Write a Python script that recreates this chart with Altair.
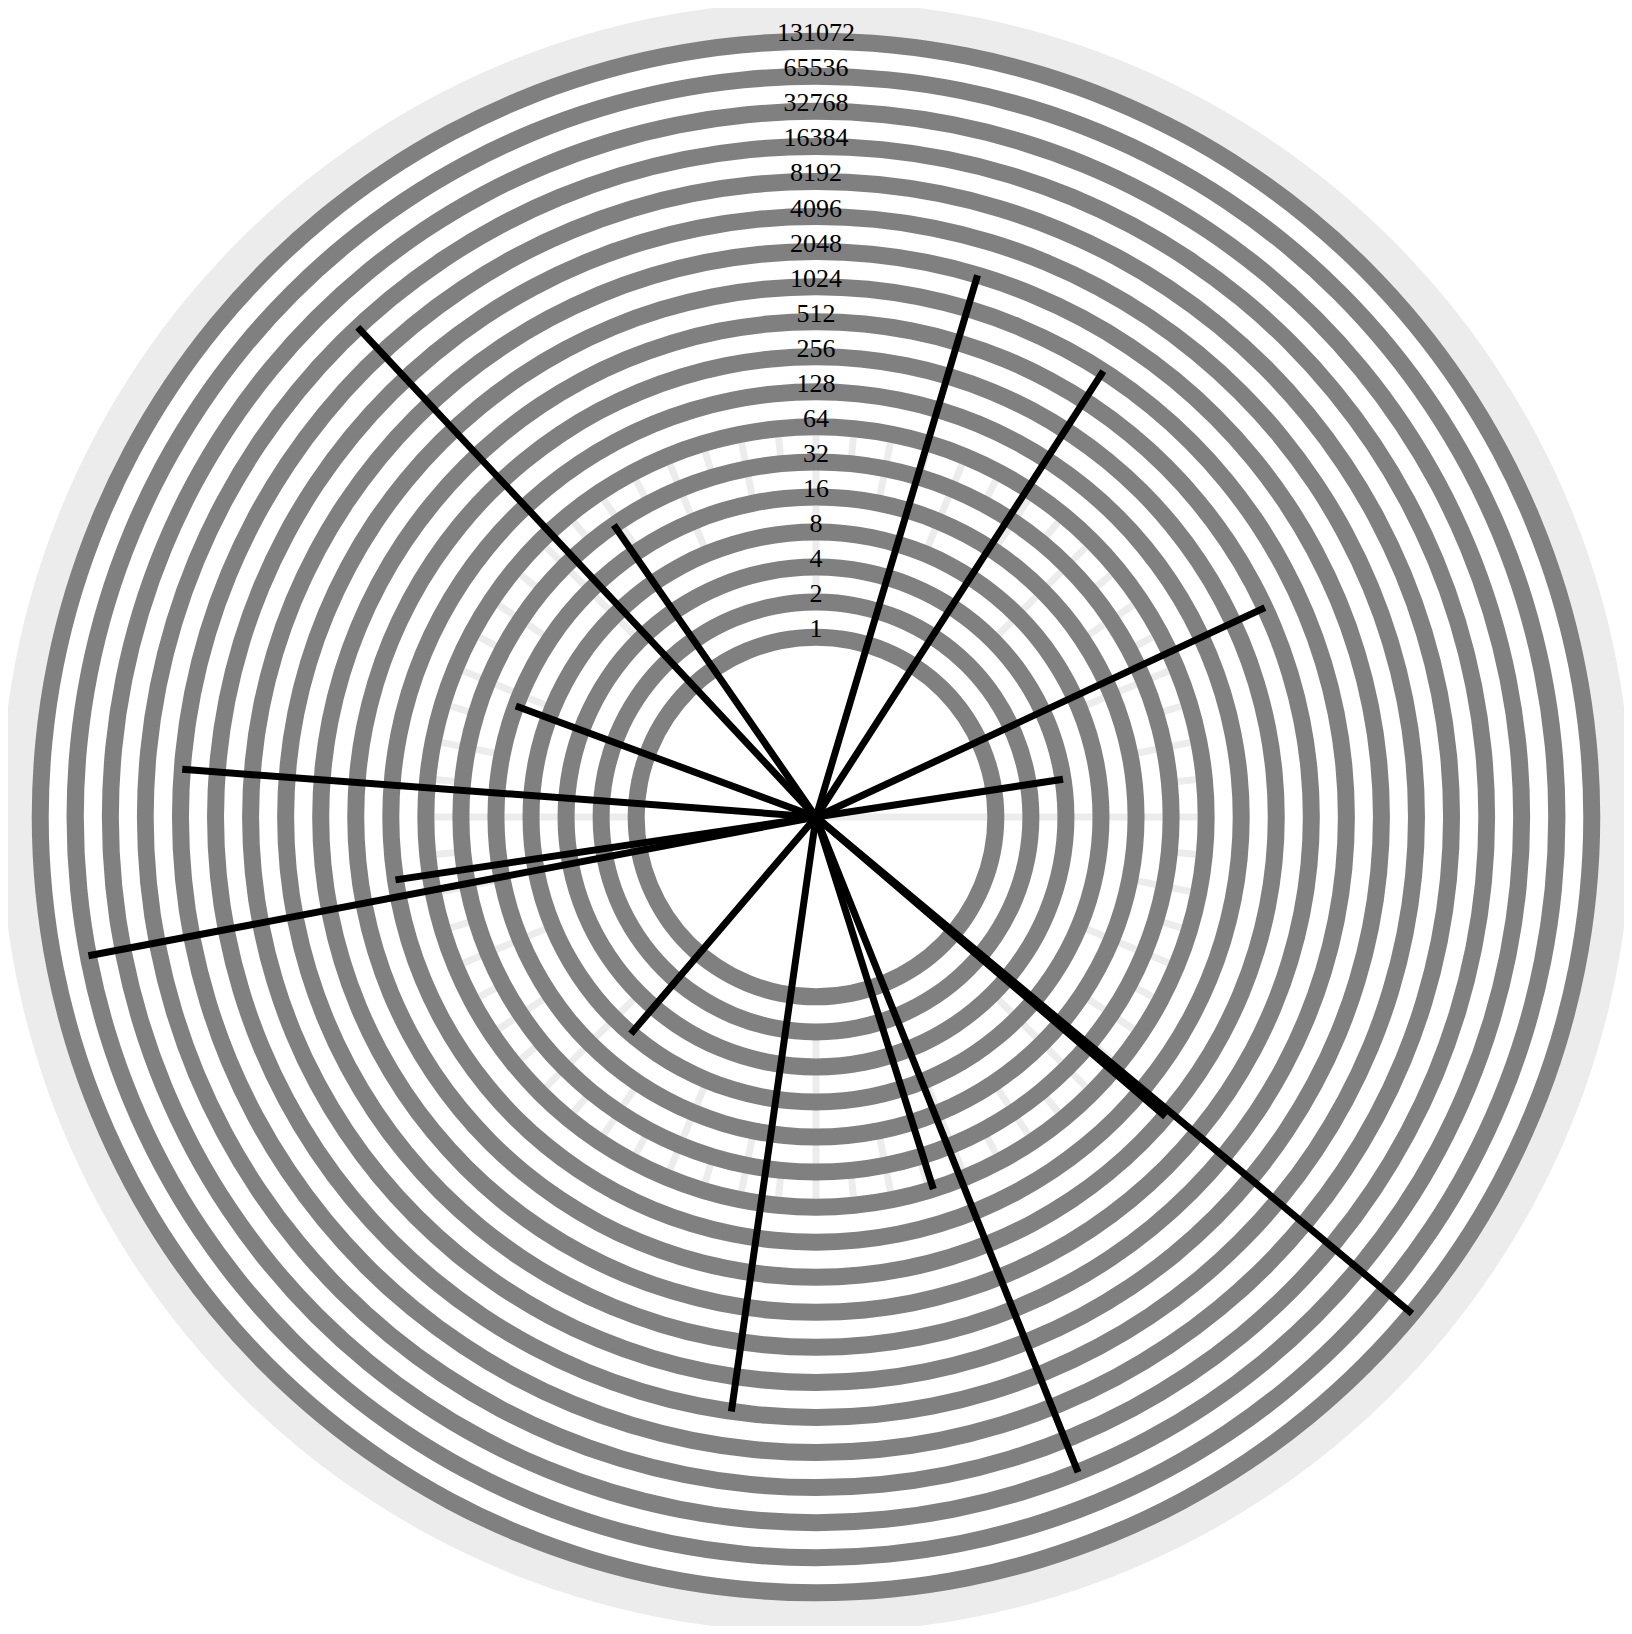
import math
import altair as alt
import pandas as pd

# ---- data ----
ring_values = [1, 2, 4, 8, 16, 32, 64, 128, 256, 512, 1024, 2048, 4096,
               8192, 16384, 32768, 65536, 131072]
ring_labels = ["1", "2", "4", "8", "16", "32", "64", "128", "256", "512",
               "1024", "2048", "4096", "8192", "16384", "32768", "65536", "131072"]

spoke_angles = [16.6, 32.8, 65.0, 81.3, 129.8, 130.6, 158.2, 162.5,
                188.1, 220.5, 259.2, 261.5, 274.3, 290.3, 316.9, 325.3]
spoke_values = [2048, 1024, 512, 4, 131072, 256, 32768, 64,
                4096, 8, 65536, 128, 8192, 16, 16384, 32]

grid_angles = [90, 95.625, 101.25, 106.875, 112.5, 118.125, 123.75, 129.375,
               135, 140.625, 146.25, 151.875, 157.5, 163.125, 168.75, 174.375,
               180, 185.625, 191.25, 196.875, 202.5, 208.125, 213.75, 219.375,
               225, 230.625, 236.25, 241.875, 247.5, 253.125, 258.75, 264.375,
               270, 275.625, 281.25, 286.875, 292.5, 298.125, 303.75, 309.375,
               315, 320.625, 326.25, 331.875, 337.5, 343.125, 348.75, 354.375,
               0, 5.625, 11.25, 16.875, 22.5, 28.125, 33.75, 39.375,
               45, 50.625, 56.25, 61.875, 67.5, 73.125, 78.75, 84.375]
grid_inner = [0, 32, 16, 32, 8, 32, 16, 32, 4, 32, 16, 32, 8, 32, 16, 32,
              2, 32, 16, 32, 8, 32, 16, 32, 4, 32, 16, 32, 8, 32, 16, 32,
              1, 32, 16, 32, 8, 32, 16, 32, 4, 32, 16, 32, 8, 32, 16, 32,
              2, 32, 16, 32, 8, 32, 16, 32, 4, 32, 16, 32, 8, 32, 16, 32]
grid_outer = 64

R_MIN = 0.02856      # value at the centre
R_MAX = 248000       # value at radius 808
DISC_EDGE = 288000   # outer edge of the light grey disc

# ---- tables ----
disc_df = pd.DataFrame({"t0": [0], "t1": [360], "outer": [DISC_EDGE], "inner": [131072]})
grid_df = pd.DataFrame({
    "angle": grid_angles,
    "inner": [v if v > 0 else R_MIN for v in grid_inner],
    "outer": [grid_outer] * len(grid_angles),
})
ring_df = pd.DataFrame({"v": ring_values, "label": ring_labels,
                        "t0": [0] * len(ring_values), "t1": [360] * len(ring_values)})
spoke_df = pd.DataFrame({"angle": spoke_angles, "v": spoke_values,
                         "base": [R_MIN] * len(spoke_values)})

theta_scale = alt.Scale(domain=[0, 360], range=[0, 2 * math.pi])
r_scale = alt.Scale(type="log", domain=[R_MIN, R_MAX], range=[0, 808])

disc = alt.Chart(disc_df).mark_arc(color="#ececec").encode(
    theta=alt.Theta("t0:Q", scale=theta_scale, stack=False),
    theta2="t1:Q",
    radius=alt.Radius("outer:Q", scale=r_scale),
    radius2="inner:Q",
)

grid = alt.Chart(grid_df).mark_arc(color="#ececec", stroke="#ececec", strokeWidth=7).encode(
    theta=alt.Theta("angle:Q", scale=theta_scale, stack=False),
    theta2="angle:Q",
    radius=alt.Radius("outer:Q", scale=r_scale),
    radius2="inner:Q",
)

rings = alt.Chart(ring_df).mark_arc(color="#808080", radiusOffset=8.5, radius2Offset=-8.5).encode(
    theta=alt.Theta("t0:Q", scale=theta_scale, stack=False),
    theta2="t1:Q",
    radius=alt.Radius("v:Q", scale=r_scale),
    radius2="v:Q",
)

spokes = alt.Chart(spoke_df).mark_arc(color="black", stroke="black", strokeWidth=7).encode(
    theta=alt.Theta("angle:Q", scale=theta_scale, stack=False),
    theta2="angle:Q",
    radius=alt.Radius("v:Q", scale=r_scale),
    radius2="base:Q",
)

labels = alt.Chart(ring_df).mark_text(
    font="Liberation Serif", fontSize=26, baseline="alphabetic", align="center", color="black"
).encode(
    theta=alt.Theta("t0:Q", scale=theta_scale, stack=False),
    radius=alt.Radius("v:Q", scale=r_scale),
    text="label:N",
)

chart = alt.layer(disc, grid, rings, spokes, labels).properties(
    width=1616, height=1618, padding=0,
    autosize=alt.AutoSizeParams(type="none"),
).configure_view(strokeWidth=0)

chart.save("out.html", embed_options={"renderer": "svg", "actions": False})
